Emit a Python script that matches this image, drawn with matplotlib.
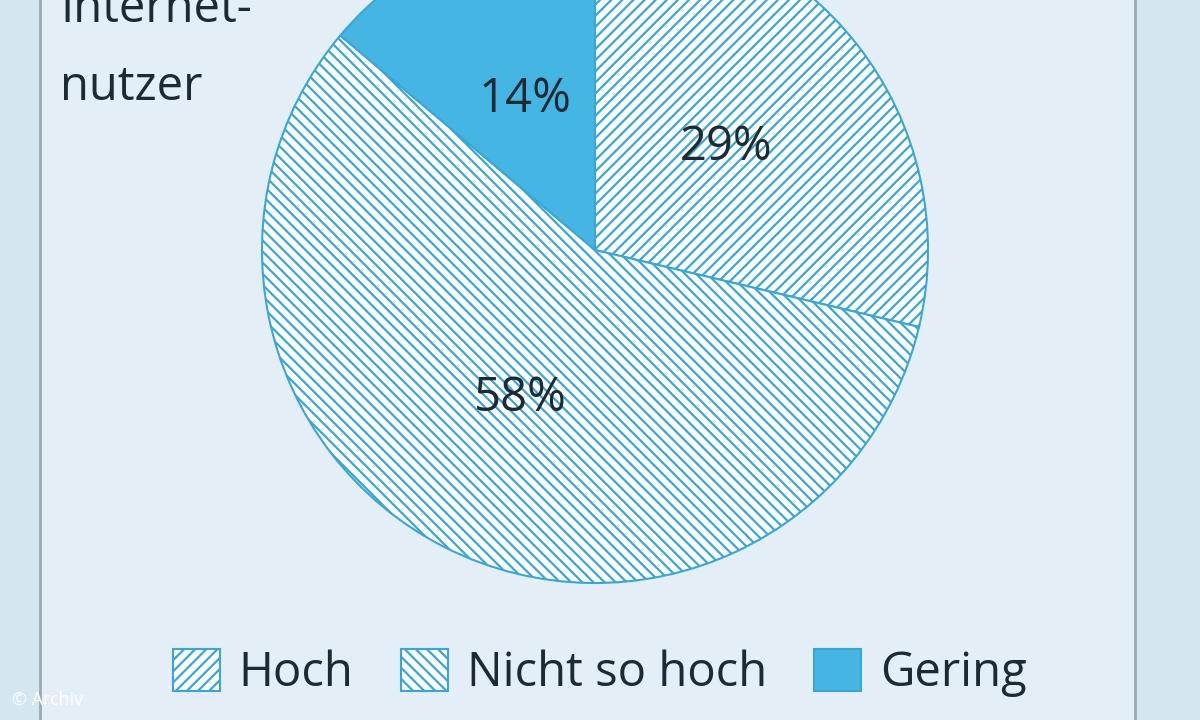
import matplotlib.pyplot as plt
import matplotlib as mpl

labels = ["Hoch", "Nicht so hoch", "Gering"]
values = [29, 58, 14]

mpl.rcParams['hatch.linewidth'] = 1.6
mpl.rcParams['font.family'] = 'Open Sans'

fig = plt.figure(figsize=(12, 7.2), dpi=100)
fig.patch.set_facecolor('#d6e6f1')
ax = fig.add_axes([0, 0, 1, 1])

wedges, _, autotexts = ax.pie(values, center=(595, 470), radius=333, startangle=90,
                              counterclock=False, autopct='%d', pctdistance=0.5,
                              textprops=dict(fontsize=34, color='#1d2a33'),
                              wedgeprops=dict(linewidth=1.5))
styles = [('white', '///'), ('white', '\\\\\\'), ('#45b5e3', None)]
for w, (fc, h) in zip(wedges, styles):
    w.set_facecolor(fc)
    w.set_edgecolor('#3aa6d6')
    if h:
        w.set_hatch(h)
    w.set_zorder(2)
for t, v in zip(autotexts, values):
    t.set_text(f"{v}%")
    t.set_zorder(3)

# limits in pixel units (pie resets them)
ax.set_xlim(0, 1200)
ax.set_ylim(0, 720)
ax.set_aspect('equal')
ax.axis('off')

# inner panel and frame lines
ax.add_patch(plt.Rectangle((40, 0), 1095, 720, facecolor='#e3eef6', edgecolor='none', zorder=0))
ax.plot([40, 40], [0, 720], color='#9aa9b4', lw=2, zorder=1)
ax.plot([1135, 1135], [0, 720], color='#9aa9b4', lw=2, zorder=1)

ax.text(60, 720 - 100, "nutzer", fontsize=34, color='#1d2a33', va='baseline')
ax.text(60, 720 - 22, "Internet-", fontsize=34, color='#1d2a33', va='baseline')

fig.legend(wedges, labels, loc='center', bbox_to_anchor=(0.5, 0.065), ncol=3,
           frameon=False, fontsize=34, handlelength=1.0, handleheight=1.0,
           handletextpad=0.4, columnspacing=1.0, labelcolor='#1d2a33')

ax.text(12, 20, "© Archiv", fontsize=13, color='white', va='center', zorder=5)

fig.savefig('out.png', dpi=100, facecolor=fig.get_facecolor())
